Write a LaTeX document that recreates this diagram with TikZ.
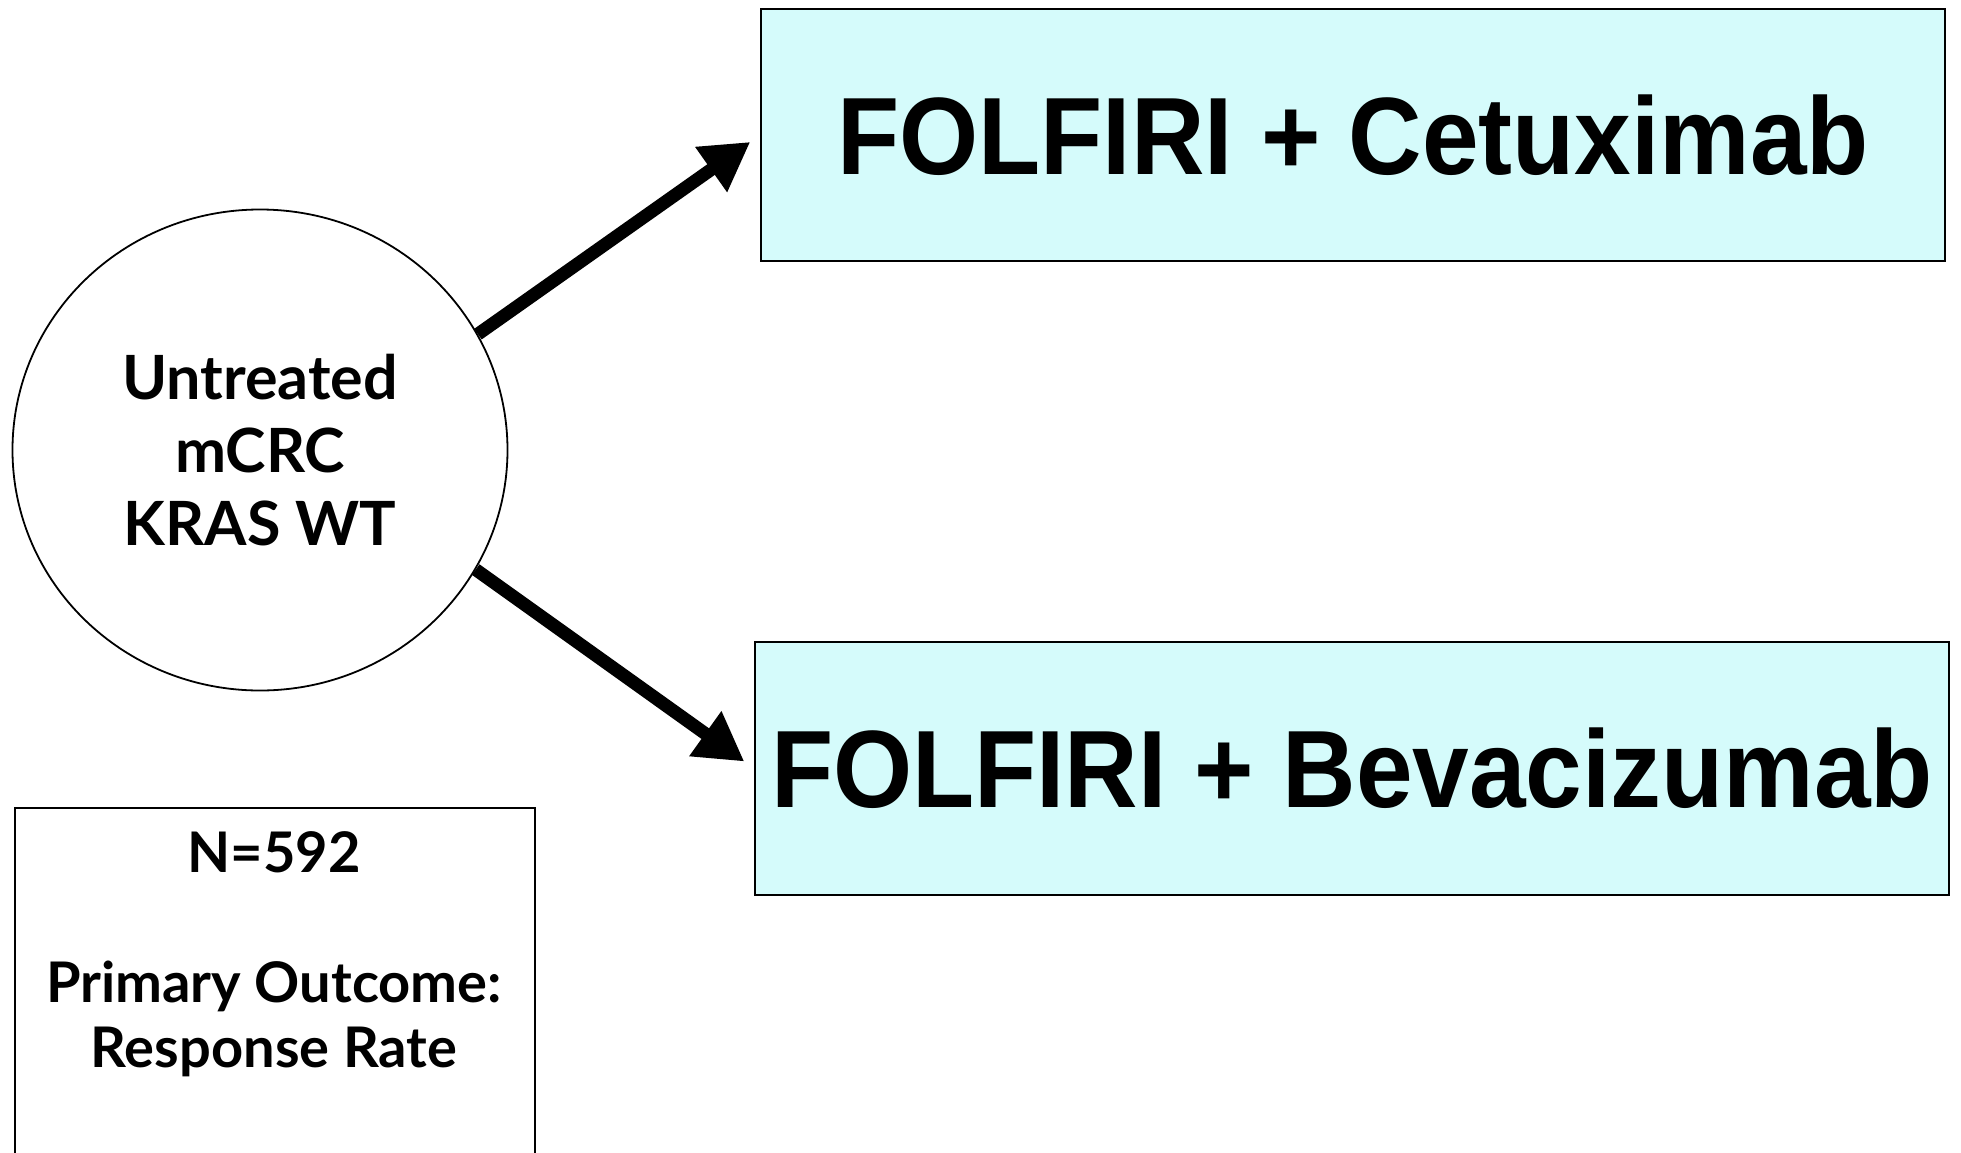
\documentclass[tikz,border=0pt]{standalone}
\usepackage{fontspec}
\usepackage{tikz}
\usetikzlibrary{arrows.meta,shapes.geometric}
\setmainfont{Lato}
\newfontfamily\armfont[FakeStretch=0.925]{Liberation Sans}
\definecolor{armfill}{RGB}{213,251,251}

\tikzset{
  armbox/.style={draw=black,line width=0.9pt,fill=armfill,inner sep=0pt,
    font=\armfont\fontsize{55}{60}\selectfont\bfseries},
  splitarrow/.style={line width=6.5pt,-{Triangle[length=24pt,width=26pt]},shorten >=6pt}
}

\begin{document}
\begin{tikzpicture}[x=0.5pt,y=0.5pt,yscale=-1]
	%set diagram to 1961 wide, 1152 high
	\useasboundingbox (0,0) rectangle (1961,1152);

	%Shape: Ellipse [patients]
	\node [draw=black,line width=0.9pt,ellipse,minimum width=247.5pt,minimum height=240.5pt,
	  align=center,font=\fontsize{30.5}{36.5}\selectfont\bfseries] (patients) at (260,450)
	  {Untreated\\mCRC\\KRAS WT};
	%Shape: Rectangle [cetuximab]
	\node [armbox,minimum width=592pt,minimum height=126pt] (cetuximab) at (1353,135)
	  {FOLFIRI + Cetuximab};
	%Shape: Rectangle [bevacizumab]
	\node [armbox,minimum width=597pt,minimum height=126.5pt] (bevacizumab) at (1352,768.5)
	  {FOLFIRI + Bevacizumab};
	%Shape: Rectangle [design] (runs off the bottom edge)
	\node [draw=black,line width=0.9pt,anchor=north west,minimum width=260pt,minimum height=220pt,
	  inner sep=0pt] (design) at (14,807) {};
	% Text Node
	\node [align=center,font=\fontsize{28}{32.5}\selectfont\bfseries] (designtext)
	  at (274,954)
	  {N=592\\[32.5pt]Primary Outcome:\\Response Rate};

	%Straight Lines [randomisation]
	\draw [splitarrow] (patients.28) -- (cetuximab.west);
	\draw [splitarrow] (patients.-29) -- (bevacizumab.west);
\end{tikzpicture}
\end{document}
